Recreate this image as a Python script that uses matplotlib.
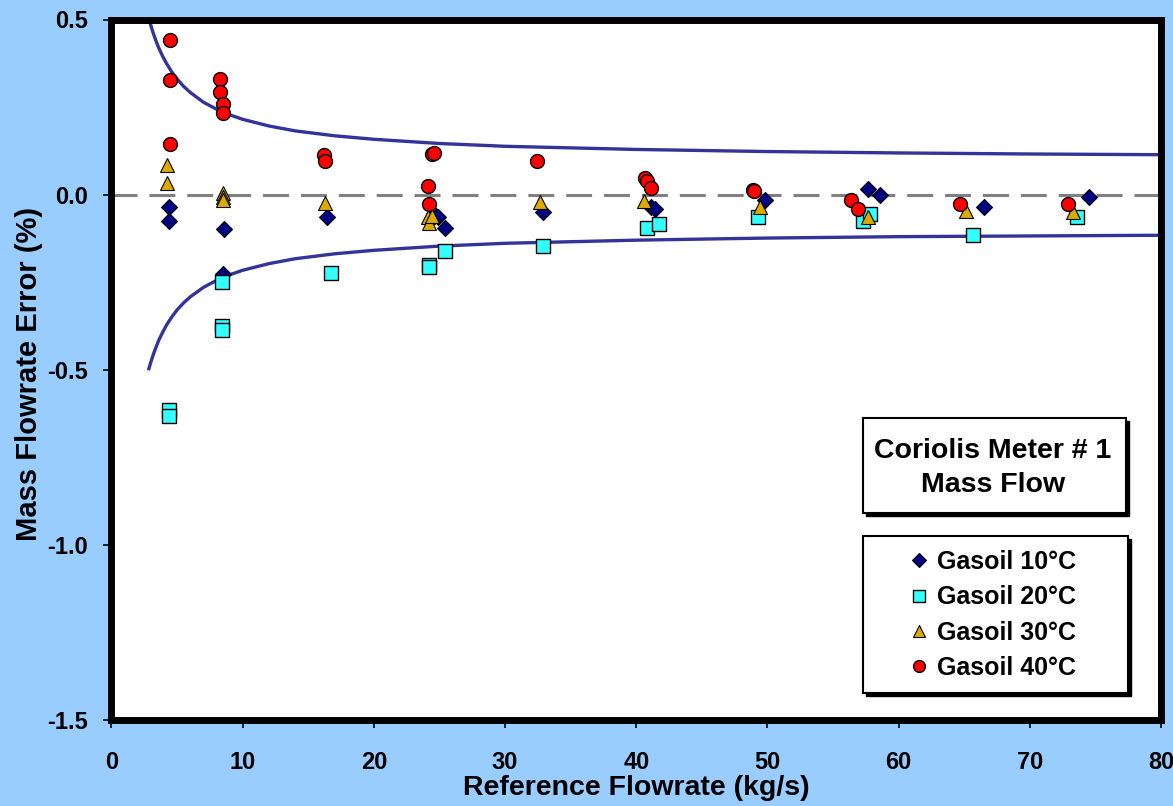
import matplotlib
matplotlib.use("Agg")
import matplotlib.pyplot as plt
from matplotlib.patches import Rectangle

plt.rcParams['font.family'] = ['Liberation Sans', 'DejaVu Sans']
plt.rcParams['font.weight'] = 'bold'

# ---------------- data ----------------
g10_x = [4.35, 4.35, 8.55, 8.5, 16.4, 24.6, 24.9, 25.4, 32.9, 41.1, 41.4, 49.8, 57.7, 58.6, 66.5, 74.5]
g10_y = [-0.036, -0.074, -0.097, -0.228, -0.063, -0.055, -0.063, -0.095, -0.050, -0.036, -0.041, -0.015, 0.016, 0.000, -0.034, -0.008]

g20_x = [4.38, 4.38, 8.42, 8.42, 8.42, 16.7, 24.2, 24.2, 25.4, 32.9, 40.8, 41.7, 49.3, 57.3, 57.8, 65.7, 73.6]
g20_y = [-0.615, -0.632, -0.250, -0.375, -0.387, -0.223, -0.200, -0.207, -0.160, -0.148, -0.096, -0.085, -0.063, -0.074, -0.055, -0.114, -0.063]

g30_x = [4.25, 4.25, 8.5, 8.5, 8.5, 16.3, 24.1, 24.2, 24.4, 32.7, 40.6, 49.4, 57.7, 65.1, 73.3]
g30_y = [0.085, 0.032, 0.004, -0.008, -0.015, -0.025, -0.063, -0.082, -0.060, -0.022, -0.017, -0.036, -0.063, -0.046, -0.050]

g40_x = [4.43, 4.43, 4.43, 8.3, 8.3, 8.5, 8.5, 16.2, 16.3, 24.1, 24.2, 24.4, 24.6, 32.4,
         40.7, 40.8, 41.1, 48.9, 49.0, 56.4, 56.9, 64.7, 72.9]
g40_y = [0.442, 0.328, 0.145, 0.330, 0.293, 0.259, 0.234, 0.114, 0.097, 0.026, -0.028, 0.117, 0.120, 0.097,
         0.048, 0.040, 0.020, 0.014, 0.009, -0.014, -0.041, -0.028, -0.028]

# uncertainty envelope
env_x = [2.85, 3.0, 3.2, 3.4, 3.6, 3.9, 4.2, 4.6, 5.0, 5.5, 6.0, 7.0, 8.0, 9.0, 10.0, 12.0,
         14.0, 17.0, 20.0, 25.0, 30.0, 40.0, 50.0, 60.0, 70.0, 80.0]
env_up = [0.503, 0.483, 0.459, 0.438, 0.419, 0.395, 0.374, 0.350, 0.330, 0.309, 0.292, 0.264,
          0.244, 0.228, 0.215, 0.196, 0.182, 0.168, 0.158, 0.146, 0.138, 0.129, 0.123, 0.119, 0.116, 0.114]
env_lo = [-0.497, -0.478, -0.455, -0.435, -0.416, -0.393, -0.372, -0.349, -0.329, -0.309, -0.292, -0.265,
          -0.245, -0.229, -0.216, -0.197, -0.183, -0.169, -0.159, -0.147, -0.139, -0.130, -0.124, -0.120, -0.118, -0.116]

labels = ['Gasoil 10°C', 'Gasoil 20°C', 'Gasoil 30°C', 'Gasoil 40°C']
x_ticks = [0, 10, 20, 30, 40, 50, 60, 70, 80]
y_ticks = [-1.5, -1.0, -0.5, 0.0, 0.5]

# ---------------- figure ----------------
W, H = 1173, 806
fig = plt.figure(figsize=(W / 100, H / 100), dpi=100)
fig.patch.set_facecolor('#99ccff')

AX_L, AX_R, AX_T, AX_B = 111.5, 1161, 19.5, 720
ax = fig.add_axes([AX_L / W, 1 - AX_B / H, (AX_R - AX_L) / W, (AX_B - AX_T) / H])
ax.set_facecolor('white')
ax.set_xlim(0, 80)
ax.set_ylim(-1.5, 0.5)
ax.set_xticks(x_ticks)
ax.set_yticks(y_ticks)
ax.set_xticklabels([str(v) for v in x_ticks])
ax.set_yticklabels(['%.1f' % v for v in y_ticks])
for s in ax.spines.values():
    s.set_linewidth(5)
    s.set_color('black')
ax.tick_params(direction='out', length=6, width=1.2, labelsize=17)
ax.tick_params(axis='x', pad=16)
ax.tick_params(axis='y', pad=11)
for lab in ax.get_xticklabels() + ax.get_yticklabels():
    lab.set_fontweight('bold')

ax.set_xlabel('Reference Flowrate (kg/s)', fontsize=20.5, fontweight='bold')
ax.set_ylabel('Mass Flowrate Error (%)', fontsize=21, fontweight='bold')
ax.xaxis.set_label_coords((636.5 - AX_L) / (AX_R - AX_L), (AX_B - 775) / (AX_B - AX_T))
ax.yaxis.set_label_coords((43 - AX_L) / (AX_R - AX_L), (AX_B - 373.5) / (AX_B - AX_T))

ax.axhline(0, color='#808080', lw=2.2, dashes=(8.5, 3.9), zorder=1)
ax.plot(env_x, env_up, color='#333399', lw=2.4, zorder=2)
ax.plot(env_x, env_lo, color='#333399', lw=2.4, zorder=2)

h10, = ax.plot(g10_x, g10_y, 'D', ms=7.8, mfc='#000080', mec='black', mew=0.8, ls='none', zorder=3)
h20, = ax.plot(g20_x, g20_y, 's', ms=10, mfc='#33ffff', mec='black', mew=1.0, ls='none', zorder=4)
h30, = ax.plot(g30_x, g30_y, '^', ms=9.5, mfc='#ddaa00', mec='black', mew=0.8, ls='none', zorder=5)
h40, = ax.plot(g40_x, g40_y, 'o', ms=10, mfc='#ff0000', mec='black', mew=1.0, ls='none', zorder=6)

# ---------------- boxes ----------------
def box(left, top, right, bottom):
    sh = 3
    fig.add_artist(Rectangle(((left + sh) / W, 1 - (bottom + sh) / H), (right - left) / W, (bottom - top) / H,
                             transform=fig.transFigure, facecolor='black', edgecolor='black', lw=1, zorder=10))
    fig.add_artist(Rectangle((left / W, 1 - bottom / H), (right - left) / W, (bottom - top) / H,
                             transform=fig.transFigure, facecolor='white', edgecolor='black', lw=1.5, zorder=11))

box(862.7, 418.3, 1126, 513)
fig.text(993 / W, 1 - 468 / H, 'Coriolis Meter # 1\nMass Flow', ha='center', va='center',
         fontsize=20.5, fontweight='bold', linespacing=1.37, zorder=12)

box(862.7, 536, 1128, 692.7)
leg = fig.legend([h10, h20, h30, h40], labels, loc='center left',
                 bbox_to_anchor=(886 / W, 1 - 615 / H), bbox_transform=fig.transFigure,
                 frameon=False, prop={'weight': 'bold', 'size': 18}, borderpad=0.4,
                 handlelength=0.8, handletextpad=0.35, labelspacing=0.45, markerscale=0.85)
leg.set_zorder(12)

fig.savefig('out.png', dpi=100, facecolor=fig.get_facecolor())
